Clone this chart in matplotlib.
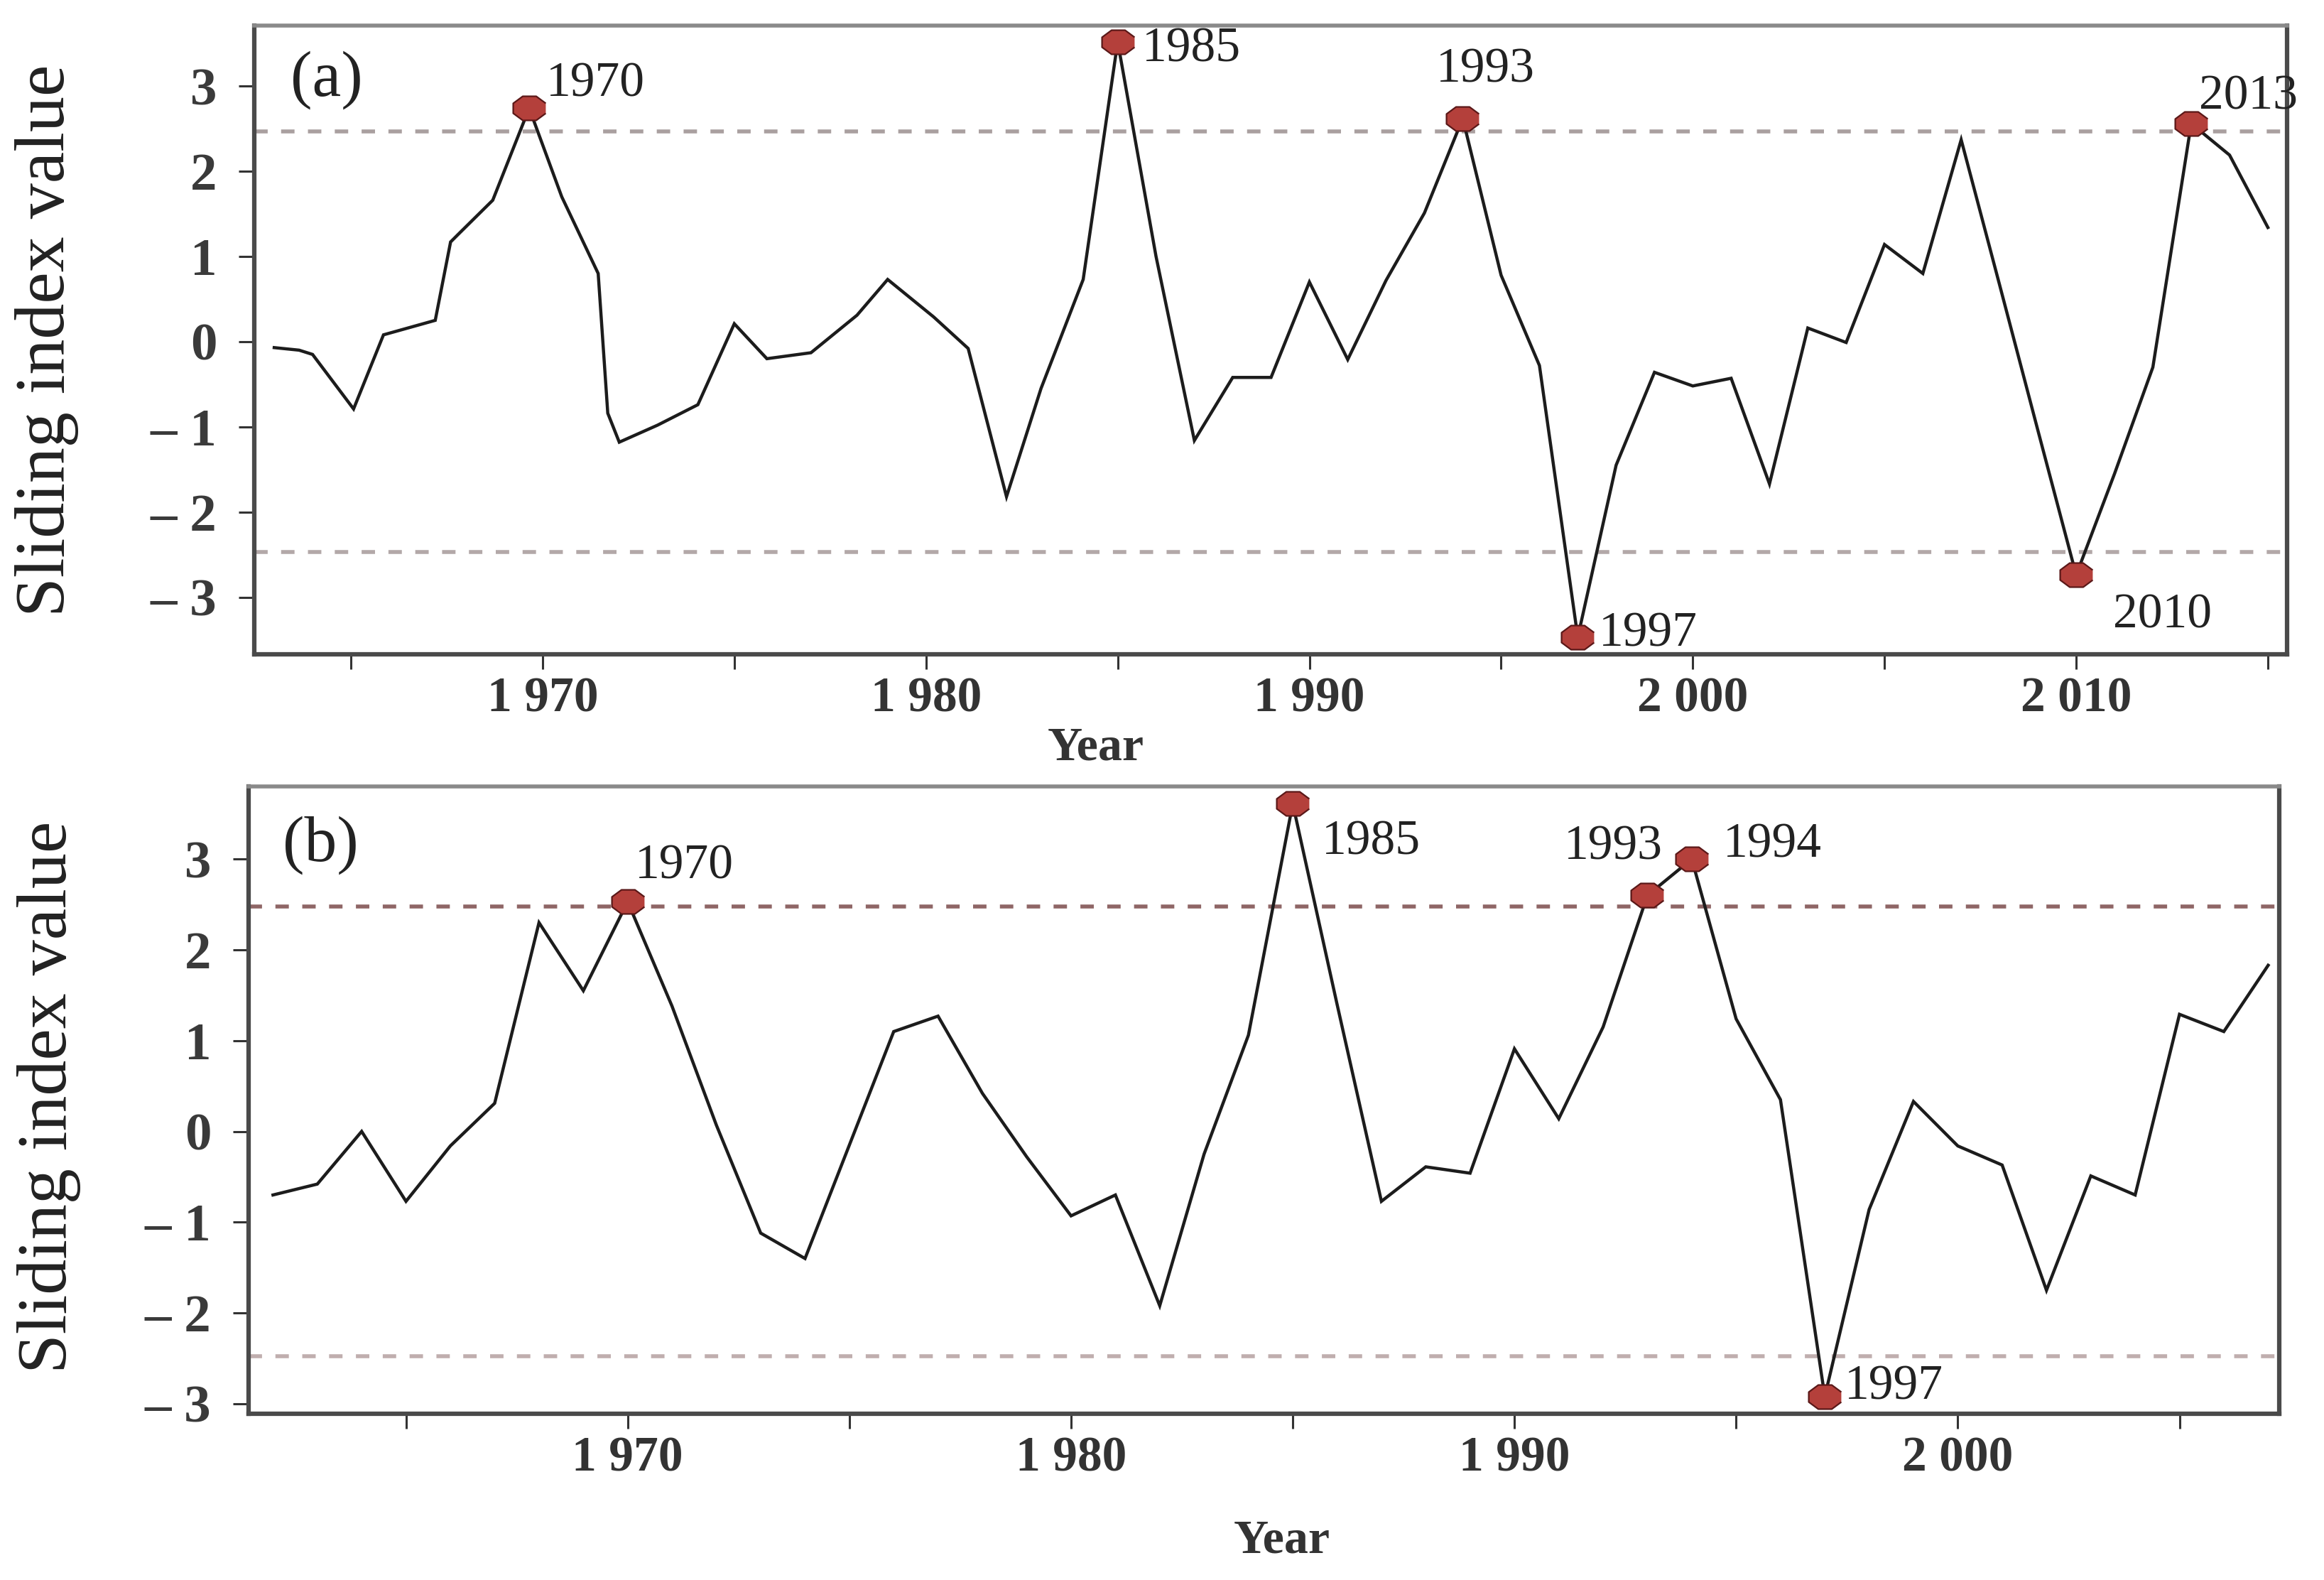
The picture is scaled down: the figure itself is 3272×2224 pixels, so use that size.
import numpy as np
import matplotlib
matplotlib.use("Agg")
import matplotlib.pyplot as plt
from matplotlib.ticker import FixedLocator, FixedFormatter

# ---------------- data: panel (a) ----------------
years_a = [1963.0, 1963.65, 1964.0, 1965.07, 1965.85, 1967.2, 1967.6, 1967.8, 1968.7,
           1969.65, 1970.5, 1971.45, 1971.7, 1972.0, 1973.0, 1974.05, 1975.0, 1975.85,
           1977.0, 1978.2, 1979.0, 1980.2, 1981.1, 1982.1, 1983.0, 1984.1, 1985.0,
           1986.0, 1987.0, 1988.0, 1989.0, 1990.0, 1991.0, 1992.0, 1993.0, 1994.0,
           1995.0, 1996.0, 1997.0, 1998.0, 1999.0, 2000.0, 2001.0, 2002.0, 2003.0,
           2004.0, 2005.0, 2006.0, 2007.0, 2008.0, 2009.0, 2010.0, 2011.0, 2012.0,
           2013.0, 2014.0, 2015.0]
values_a = [-0.07, -0.10, -0.15, -0.79, 0.08, 0.25, 1.17, 1.26, 1.66,
            2.74, 1.70, 0.80, -0.84, -1.18, -0.98, -0.74, 0.21, -0.20,
            -0.13, 0.31, 0.73, 0.29, -0.08, -1.82, -0.55, 0.73, 3.52,
            1.00, -1.16, -0.42, -0.42, 0.70, -0.21, 0.72, 1.51, 2.62,
            0.78, -0.28, -3.47, -1.45, -0.36, -0.52, -0.43, -1.67, 0.16,
            -0.01, 1.14, 0.80, 2.37, 0.67, -1.04, -2.74, -1.55, -0.30,
            2.56, 2.19, 1.34]
# marked points (x, y) and their labels with label anchor (x, y baseline, ha)
marks_a_x = [1969.65, 1985.0, 1994.0, 1997.0, 2010.0, 2013.0]
marks_a_y = [2.74, 3.52, 2.62, -3.47, -2.74, 2.56]
labels_a = ["1970", "1985", "1993", "1997", "2010", "2013"]
label_pos_a = [(1970.1, 2.88, "left"), (1985.64, 3.29, "left"), (1994.6, 3.05, "center"),
               (1997.55, -3.57, "left"), (2010.96, -3.36, "left"), (2013.2, 2.73, "left")]
crit_a = 2.47

# ---------------- data: panel (b) ----------------
years_b = list(range(1962, 2008))
values_b = [-0.70, -0.58, 0.00, -0.77, -0.16, 0.31, 2.30, 1.55, 2.53, 1.38,
            0.07, -1.12, -1.40, -0.15, 1.10, 1.27, 0.42, -0.28, -0.93, -0.70,
            -1.92, -0.25, 1.06, 3.61, 1.40, -0.77, -0.39, -0.46, 0.91, 0.14,
            1.15, 2.60, 3.00, 1.24, 0.35, -2.92, -0.86, 0.33, -0.16, -0.37,
            -1.75, -0.49, -0.70, 1.29, 1.10, 1.83]
marks_b_x = [1970, 1985, 1993, 1994, 1997]
marks_b_y = [2.53, 3.61, 2.60, 3.00, -2.92]
labels_b = ["1970", "1985", "1993", "1994", "1997"]
label_pos_b = [(1970.17, 2.79, "left"), (1985.65, 3.05, "left"), (1993.35, 3.00, "right"),
               (1994.7, 3.02, "left"), (1997.45, -2.95, "left")]
crit_b = 2.48

ytick_vals = [-3, -2, -1, 0, 1, 2, 3]
ytick_labels = ["\u2013 3", "\u2013 2", "\u2013 1", "0", "1", "2", "3"]

SERIF = ["Liberation Serif", "DejaVu Serif"]
plt.rcParams["font.family"] = SERIF

W, H = 3272, 2224
fig = plt.figure(figsize=(W / 100, H / 100), dpi=100)
fig.patch.set_facecolor("white")


def frac_rect(l, t, r, b):
    return [l / W, 1 - b / H, (r - l) / W, (b - t) / H]


# octagon marker, flattened
ang = np.deg2rad(np.arange(22.5, 382.5, 45))
oct_verts = list(zip(np.cos(ang), 0.74 * np.sin(ang)))


def style_axes(ax, xlim, ylim, xmajor, xlab_years):
    ax.set_xlim(*xlim)
    ax.set_ylim(*ylim)
    for side, sp in ax.spines.items():
        sp.set_color("#4a4a4a")
        sp.set_linewidth(4.5)
    ax.spines["top"].set_color("#8a8a8a")
    ax.spines["top"].set_linewidth(4)
    ax.yaxis.set_major_locator(FixedLocator(ytick_vals))
    ax.yaxis.set_major_formatter(FixedFormatter(ytick_labels))
    ax.xaxis.set_major_locator(FixedLocator(xmajor))
    ax.xaxis.set_major_formatter(FixedFormatter(
        [("%d %03d" % (y // 1000, y % 1000)) if y in xlab_years else "" for y in xmajor]))
    ax.tick_params(axis="y", direction="out", length=16, width=2.2, color="#333333",
                   pad=22, labelsize=54, labelcolor="#3a3a3a")
    ax.tick_params(axis="x", direction="out", length=15, width=2.2, color="#333333",
                   pad=8, labelsize=50, labelcolor="#333333")
    for lab in ax.get_xticklabels() + ax.get_yticklabels():
        lab.set_fontweight("bold")
        lab.set_family(SERIF)


def draw_panel(ax, x, y, mx, my, labs, labpos, crit, upper_color, lower_color):
    ax.axhline(crit, color=upper_color, lw=4.0, dashes=(3.4, 3.4), zorder=1)
    ax.axhline(-crit, color=lower_color, lw=4.0, dashes=(3.4, 3.4), zorder=1)
    ax.plot(x, y, color="#1c1c1c", lw=3.2, zorder=2, solid_joinstyle="miter")
    ax.plot(mx, my, linestyle="none", marker=oct_verts, markersize=33,
            markerfacecolor="#b4403b", markeredgecolor="#5a1818", markeredgewidth=1.6, zorder=3)
    for lab, (tx, ty, ha) in zip(labs, labpos):
        ax.text(tx, ty, lab, ha=ha, va="baseline", fontsize=50, color="#222222",
                family=SERIF, clip_on=False, zorder=4)


# ---------- panel (a) ----------
ax_a = fig.add_axes(frac_rect(358, 36, 3220, 921))
draw_panel(ax_a, years_a, values_a, marks_a_x, marks_a_y, labels_a, label_pos_a, crit_a,
           "#aaa0a0", "#b3a8a8")
style_axes(ax_a, (1962.48, 2015.5), (-3.67, 3.71), list(range(1965, 2016, 5)),
           [1970, 1980, 1990, 2000, 2010])
ax_a.text(0.0356, 0.913, "(a)", transform=ax_a.transAxes, ha="center", va="center",
          fontsize=66, color="#222222")
ax_a.text(0.414, -0.168, "Year", transform=ax_a.transAxes, ha="center", va="baseline",
          fontsize=49, fontweight="bold", color="#333333")

# ---------- panel (b) ----------
ax_b = fig.add_axes(frac_rect(350, 1107, 3209, 1990))
draw_panel(ax_b, years_b, values_b, marks_b_x, marks_b_y, labels_b, label_pos_b, crit_b,
           "#8f6666", "#c0aeae")
style_axes(ax_b, (1961.45, 2007.25), (-3.11, 3.80), list(range(1965, 2006, 5)),
           [1970, 1980, 1990, 2000])
ax_b.text(0.0353, 0.907, "(b)", transform=ax_b.transAxes, ha="center", va="center",
          fontsize=66, color="#222222")
ax_b.text(0.509, -0.221, "Year", transform=ax_b.transAxes, ha="center", va="baseline",
          fontsize=49, fontweight="bold", color="#333333")

# y labels
fig.text(66 / W, 1 - 479 / H, "Sliding index value", rotation=90, ha="center", va="center",
         fontsize=72, color="#222222")
fig.text(69 / W, 1 - 1544 / H, "Sliding index value", rotation=90, ha="center", va="center",
         fontsize=72, color="#222222")

fig.savefig("out.png", dpi=100, facecolor="white")
